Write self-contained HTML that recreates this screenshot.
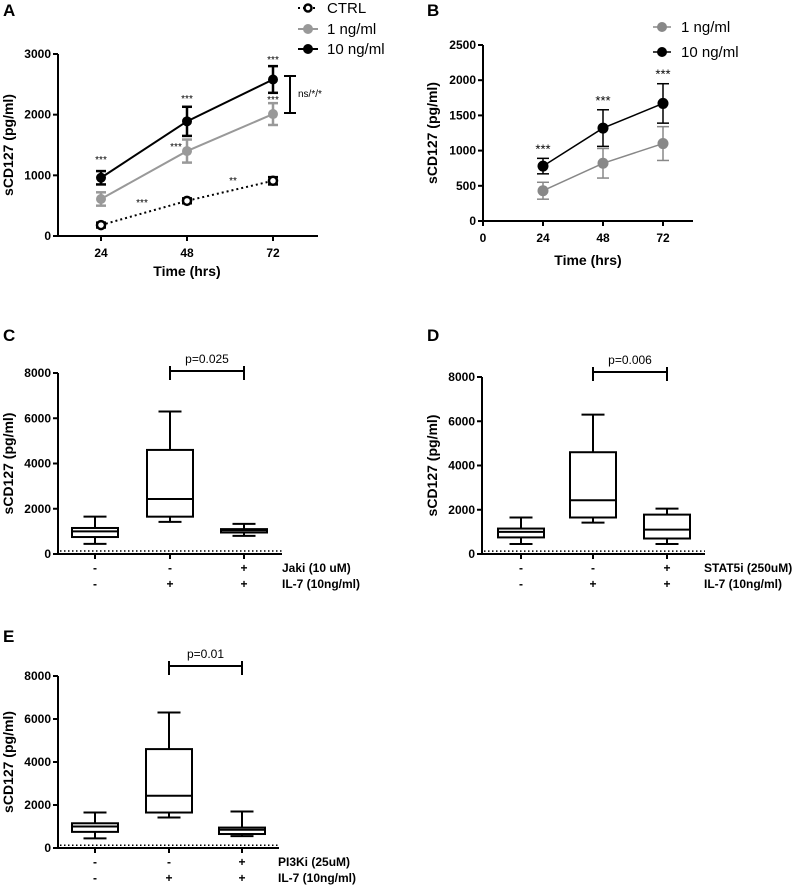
<!DOCTYPE html>
<html><head><meta charset="utf-8"><style>
html,body{margin:0;padding:0;background:#fff}
svg{display:block;font-family:"Liberation Sans",Arial,sans-serif}
.tk{font-size:12px;font-weight:bold}
.tt{font-size:14px;font-weight:bold}
.pl{font-size:17px;font-weight:bold}
.lg{font-size:15px}
.st{font-size:10px}
</style></head><body>
<svg id="fig" width="800" height="885" viewBox="0 0 800 885" xmlns="http://www.w3.org/2000/svg"></svg>
<script>
// Panel A data
const aTimes=[24,48,72];
const aCtrl=[180,580,910];
const aCtrlErr=[40,40,60];
const a1=[610,1400,2010];
const a1Err=[110,190,180];
const a10=[960,1890,2580];
const a10Err=[110,240,220];
const aYTicks=[0,1000,2000,3000];
// Panel B data
const bTimes=[24,48,72];
const b1=[430,820,1100];
const b1Err=[120,210,240];
const b10=[780,1320,1670];
const b10Err=[110,260,280];
const bYTicks=[0,500,1000,1500,2000,2500];
const bXTicks=[0,24,48,72];
// Box panels: [whiskerLow, q1, median, q3, whiskerHigh]
const boxYTicks=[0,2000,4000,6000,8000];
const cBoxes=[[450,750,1000,1150,1650],[1420,1650,2430,4600,6300],[800,950,1050,1100,1330]];
const dBoxes=[[450,750,1000,1150,1650],[1420,1650,2430,4600,6300],[450,700,1100,1780,2050]];
const eBoxes=[[450,750,1000,1150,1650],[1420,1650,2430,4600,6300],[550,650,850,950,1700]];
const inhibRow=['-','-','+'];
const il7Row=['-','+','+'];

const NS='http://www.w3.org/2000/svg';
const svg=document.getElementById('fig');
function mk(tag,attrs,parent,text){const e=document.createElementNS(NS,tag);for(const k in attrs)e.setAttribute(k,attrs[k]);if(text!==undefined)e.textContent=text;(parent||svg).appendChild(e);return e;}
function line(x1,y1,x2,y2,st,w,g,dash){const l=mk('line',{x1,y1,x2,y2,stroke:st||'#000','stroke-width':w||2},g);if(dash)l.setAttribute('stroke-dasharray',dash);return l;}
function txt(x,y,s,cls,anchor,g){return mk('text',{x,y,class:cls,'text-anchor':anchor||'start'},g,s);}

// ---------- Panel A ----------
(function(){
const g=mk('g',{});


const X0=58,XE=318,Y0=236,Ytop=54;
const xs=t=>101+(t-24)*(86/24);
const ys=v=>Y0-(v/3000)*(Y0-Ytop);
txt(3,16,'A','pl','start',g);
line(X0,Ytop,X0,Y0+1,'#000',2,g);line(X0-1,Y0,XE,Y0,'#000',2,g);
aYTicks.forEach(v=>{line(X0-5,ys(v),X0,ys(v),'#000',2,g);txt(X0-7,ys(v)+4,String(v),'tk','end',g);});
aTimes.forEach(t=>{line(xs(t),Y0,xs(t),Y0+5,'#000',2,g);txt(xs(t),Y0+21,String(t),'tk','middle',g);});
txt(187,276,'Time (hrs)','tt','middle',g);
const yt=txt(0,0,'sCD127 (pg/ml)','tt','middle',g);yt.setAttribute('transform','translate(13,145) rotate(-90)');
function series(vals,errs,col,dash,open,name){
  const sg=mk('g',{},g);
  
  
  const pts=aTimes.map((t,i)=>xs(t)+','+ys(vals[i])).join(' ');
  const pl=mk('polyline',{points:pts,fill:'none',stroke:col,'stroke-width':2},sg);
  if(dash)pl.setAttribute('stroke-dasharray',dash);
  aTimes.forEach((t,i)=>{const x=xs(t);const hi=ys(vals[i]+errs[i]),lo=ys(vals[i]-errs[i]);
    line(x,hi,x,lo,col,2.5,sg);line(x-5,hi,x+5,hi,col,2.5,sg);line(x-5,lo,x+5,lo,col,2.5,sg);
    if(open)mk('circle',{cx:x,cy:ys(vals[i]),r:4,fill:'#fff',stroke:col,'stroke-width':2.5},sg);
    else mk('circle',{cx:x,cy:ys(vals[i]),r:5,fill:col},sg);});
}
series(aCtrl,aCtrlErr,'#000','2,3',true,'ctrl-series');
series(a1,a1Err,'#999','',false,'1ng-series');
series(a10,a10Err,'#000','',false,'10ng-series');
// stars
[[101,163,'***'],[187,102,'***'],[273,63,'***'],[176,150,'***'],[273,103,'***'],[142,206,'***'],[233,184,'**']].forEach(s=>txt(s[0],s[1],s[2],'st','middle',g));
line(290,76,290,113,'#000',2,g);line(284,76,296,76,'#000',2,g);line(284,113,296,113,'#000',2,g);
txt(298,97,'ns/*/*','st','start',g);
// legend
const lg=mk('g',{},g);
line(298,8,318,8,'#000',2,lg).setAttribute('stroke-dasharray','2,3');mk('circle',{cx:308,cy:8,r:3.5,fill:'#fff',stroke:'#000','stroke-width':2.5},lg);txt(327,13,'CTRL','lg','start',lg);
line(298,29,318,29,'#999',2,lg);mk('circle',{cx:308,cy:29,r:5,fill:'#999'},lg);txt(327,34,'1 ng/ml','lg','start',lg);
line(298,49,318,49,'#000',2,lg);mk('circle',{cx:308,cy:49,r:5,fill:'#000'},lg);txt(327,54,'10 ng/ml','lg','start',lg);
})();

// ---------- Panel B ----------
(function(){
const g=mk('g',{});


const X0=483,XE=693,Y0=221,Ytop=45;
const xs=t=>X0+t*(180/72);
const ys=v=>Y0-(v/2500)*(Y0-Ytop);
txt(427,16,'B','pl','start',g);
line(X0,Ytop,X0,Y0+1,'#000',2,g);line(X0-1,Y0,XE,Y0,'#000',2,g);
bYTicks.forEach(v=>{line(X0-5,ys(v),X0,ys(v),'#000',2,g);txt(X0-7,ys(v)+4,String(v),'tk','end',g);});
bXTicks.forEach(t=>{line(xs(t),Y0,xs(t),Y0+5,'#000',2,g);txt(xs(t),Y0+21,String(t),'tk','middle',g);});
txt(588,265,'Time (hrs)','tt','middle',g);
const yt=txt(0,0,'sCD127 (pg/ml)','tt','middle',g);yt.setAttribute('transform','translate(437,133) rotate(-90)');
function series(vals,errs,col,name){
  const sg=mk('g',{},g);
  
  
  mk('polyline',{points:bTimes.map((t,i)=>xs(t)+','+ys(vals[i])).join(' '),fill:'none',stroke:col,'stroke-width':1.5},sg);
  bTimes.forEach((t,i)=>{const x=xs(t);const hi=ys(vals[i]+errs[i]),lo=ys(vals[i]-errs[i]);
    line(x,hi,x,lo,col,1.5,sg);line(x-6,hi,x+6,hi,col,1.5,sg);line(x-6,lo,x+6,lo,col,1.5,sg);
    mk('circle',{cx:x,cy:ys(vals[i]),r:5.5,fill:col},sg);});
}
series(b1,b1Err,'#888','1ng-series');
series(b10,b10Err,'#000','10ng-series');
bTimes.forEach((t,i)=>txt(xs(t),ys(b10[i]+b10Err[i])-5,'***','tk','middle',g).setAttribute('style','font-weight:normal;font-size:13px'));
const lg=mk('g',{},g);
line(653,27,671,27,'#888',1.5,lg);mk('circle',{cx:662,cy:27,r:5,fill:'#888'},lg);txt(681,32,'1 ng/ml','lg','start',lg);
line(653,52,671,52,'#000',1.5,lg);mk('circle',{cx:662,cy:52,r:5,fill:'#000'},lg);txt(681,57,'10 ng/ml','lg','start',lg);
})();

// ---------- Box panels ----------
function boxPanel(name,letter,lx,ly,X0,XE,Y0,Ytop,centers,boxes,pLabel,pY,inhibName,labelX){
const g=mk('g',{});


const ys=v=>Y0-(v/8000)*(Y0-Ytop);
txt(lx,ly,letter,'pl','start',g);
line(X0,Ytop,X0,Y0+1,'#000',2,g);line(X0-1,Y0,XE,Y0,'#000',2,g);
line(X0+2,ys(130),XE,ys(130),'#000',1.5,g,'1.5,2.5');
boxYTicks.forEach(v=>{line(X0-5,ys(v),X0,ys(v),'#000',2,g);txt(X0-7,ys(v)+4,String(v),'tk','end',g);});
const yt=txt(0,0,'sCD127 (pg/ml)','tt','middle',g);yt.setAttribute('transform','translate('+(X0-45)+','+((Y0+Ytop)/2)+') rotate(-90)');
const hw=23;
boxes.forEach((b,i)=>{const x=centers[i];
  const bg=mk('g',{},g);
  
  
  line(x,Y0,x,Y0+5,'#000',2,bg);
  line(x,ys(b[0]),x,ys(b[1]),'#000',2,bg);line(x,ys(b[3]),x,ys(b[4]),'#000',2,bg);
  line(x-hw/2,ys(b[0]),x+hw/2,ys(b[0]),'#000',2,bg);line(x-hw/2,ys(b[4]),x+hw/2,ys(b[4]),'#000',2,bg);
  mk('rect',{x:x-hw,y:ys(b[3]),width:hw*2,height:ys(b[1])-ys(b[3]),fill:'#fff',stroke:'#000','stroke-width':2},bg);
  line(x-hw,ys(b[2]),x+hw,ys(b[2]),'#000',2,bg);
  txt(x,Y0+18,inhibRow[i],'tk','middle',g);txt(x,Y0+34,il7Row[i],'tk','middle',g);
});
line(centers[1],pY,centers[2],pY,'#000',2,g);line(centers[1],pY-5,centers[1],pY+9,'#000',2,g);line(centers[2],pY-5,centers[2],pY+9,'#000',2,g);
txt((centers[1]+centers[2])/2,pY-8,pLabel,'tk','middle',g).setAttribute('style','font-weight:normal');
txt(labelX,Y0+18,inhibName,'tk','start',g);txt(labelX,Y0+34,'IL-7 (10ng/ml)','tk','start',g);
}
boxPanel('panel-c-boxplot','C',3,341,58,282,554,373,[95,170,244],cBoxes,'p=0.025',371,'Jaki (10 uM)',282);
boxPanel('panel-d-boxplot','D',427,341,482,705,554,377,[521,593,667],dBoxes,'p=0.006',372,'STAT5i (250uM)',704);
boxPanel('panel-e-boxplot','E',3,642,58,279,848,676,[95,169,242],eBoxes,'p=0.01',666,'PI3Ki (25uM)',278);
</script>
</body></html>
